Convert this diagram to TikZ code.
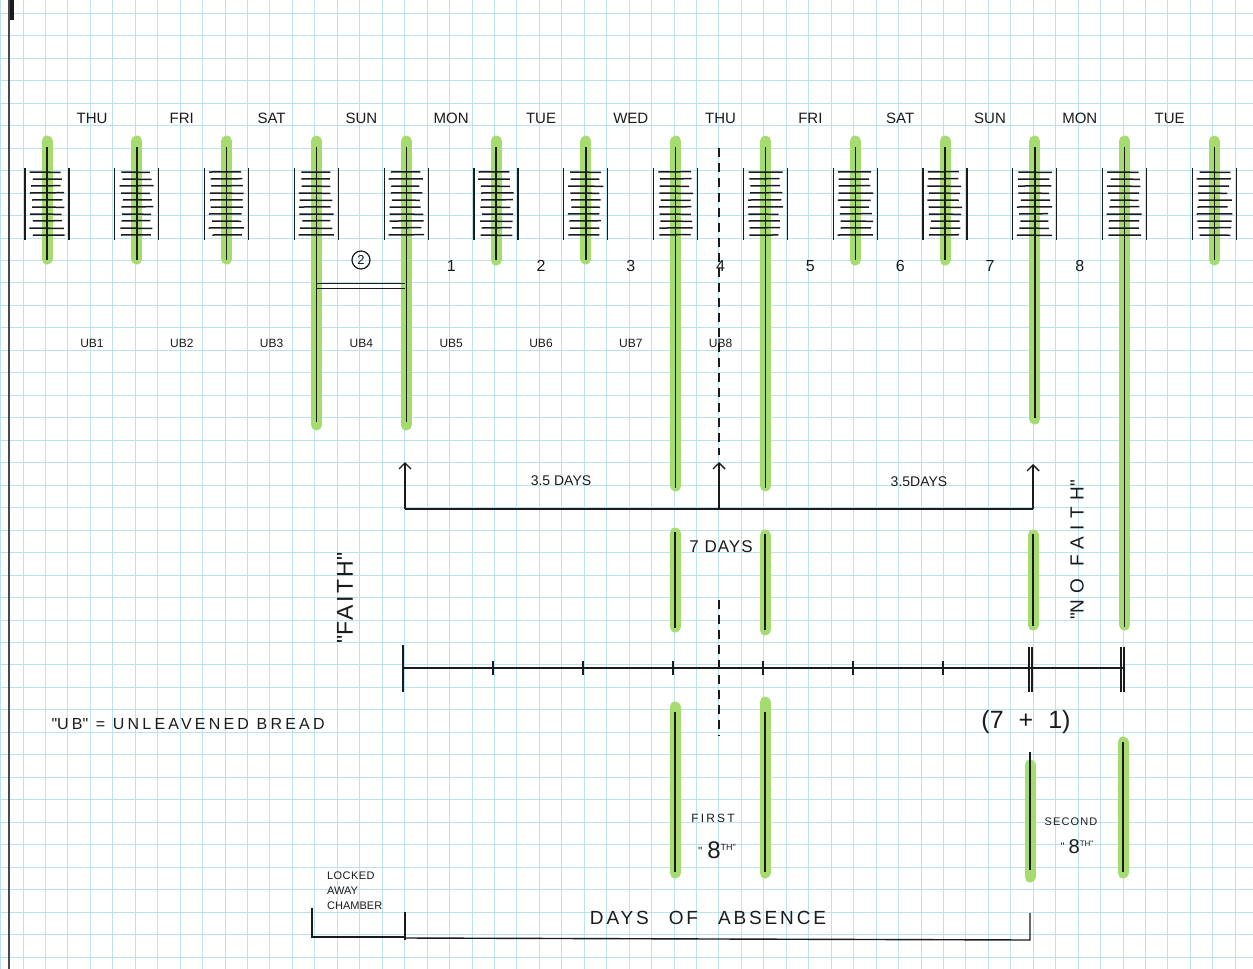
\documentclass[tikz,border=0pt]{standalone}
\usepackage{fontspec}
\setsansfont{Liberation Sans}
\usetikzlibrary{arrows.meta}
\definecolor{gridblue}{HTML}{BCE2EE}
\definecolor{marker}{HTML}{A6DB70}
\definecolor{ink}{HTML}{1B1B1B}

\begin{document}
\begin{tikzpicture}[x=1pt, y=-1pt, font=\sffamily, ink,
  hilite/.style={marker, line width=11pt, line cap=round},
  pen/.style={ink, line width=1.4pt},
  stackframe/.style={ink, line width=1.3pt},
  dayname/.style={font=\sffamily\fontsize{15}{17}\selectfont},
  ublabel/.style={font=\sffamily\fontsize{12}{14}\selectfont},
  daynum/.style={font=\sffamily\fontsize{16}{18}\selectfont},
  note/.style={font=\sffamily\fontsize{14}{16}\selectfont},
  bigtick/.style={ink, line width=2.4pt},
  tip/.style={-{Straight Barb[length=6pt,width=12pt]}}
]
  \useasboundingbox (0,0) rectangle (1253,969);
  \fill[white] (0,0) rectangle (1253,969);

  % graph paper
  \foreach \k in {0,...,55}
    \draw[gridblue, line width=0.9pt] ({0.5+22.45*\k},0) -- ++(0,969);
  \foreach \k in {0,...,42}
    \draw[gridblue, line width=0.9pt] (0,{13.3+22.47*\k}) -- ++(1253,0);
  \draw[ink!80, line width=1.6pt] (9,0) -- (9,969);
  \draw[ink, line width=4pt] (12,0) -- (12,20);

  % highlighter under the poles
  \foreach \i/\bot in {0/259, 1/259, 2/259, 3/425, 4/425, 5/260, 6/259, 7/486,
                       8/486, 9/260, 10/260, 11/419, 12/625, 13/260}
    \draw[hilite] ({47+89.8*\i},141) -- ({47+89.8*\i},\bot);
  \draw[hilite] (675,533) -- (675,627);
  \draw[hilite] (765,535) -- (765,630);
  \draw[hilite] (1033,535) -- (1033,625);
  \draw[hilite] (675,707) -- (675,873);
  \draw[hilite] (765,702) -- (765,873);
  \draw[hilite] (1030,765) -- (1030,877);
  \draw[hilite] (1123,742) -- (1123,873);

  % bread stacks
  \pgfmathsetseed{7}
  \foreach \i in {0,...,13} {
    \pgfmathsetmacro\c{47+89.8*\i}
    \draw[stackframe] (\c-22,168) -- (\c-22,240);
    \draw[stackframe] (\c+22,168) -- (\c+22,240);
    \foreach \j in {0,...,9}
      \draw[pen, line width=1.5pt] ({\c-18+4*rnd},{172+7*\j}) -- ({\c+13+5*rnd},{172+7*\j+rnd-0.5});
  }

  % poles
  \foreach \i/\bot in {0/260, 1/260, 2/260, 3/422, 4/422, 5/260, 6/260, 7/488,
                       8/488, 9/260, 10/260, 11/418, 12/627, 13/260}
    \draw[pen] ({47+89.8*\i},147) -- ({47+89.8*\i},\bot);
  \draw[pen] (675,532) -- (675,628);
  \draw[pen] (765,534) -- (765,630);
  \draw[pen] (1033,534) -- (1033,626);
  \draw[pen] (675,712) -- (675,872);
  \draw[pen] (765,712) -- (765,872);
  \draw[pen] (1030,752) -- (1030,870);
  \draw[pen] (1123,742) -- (1123,872);

  % day names, numbers, loaves
  \foreach \d [count=\i from 0] in {THU, FRI, SAT, SUN, MON, TUE, WED, THU, FRI, SAT, SUN, MON, TUE}
    \node[dayname] (day\i) at ({92+89.8*\i},118) {\d};
  \foreach \n in {1,...,8}
    \node[daynum] (num\n) at ({92+89.8*(\n+3)},266) {\n};
  \foreach \n in {1,...,8}
    \node[ublabel] (ub\n) at ({92+89.8*(\n-1)},343) {UB\n};
  \node[draw, circle, line width=1.2pt, minimum size=18pt, inner sep=0pt,
        font=\sffamily\fontsize{13}{14}\selectfont] (rest) at (361,260) {2};
  \draw[pen, line width=1pt] (316,283) -- (405,283);
  \draw[pen, line width=1pt] (316,288) -- (405,288);

  % middle of the week
  \draw[pen, line width=1.3pt, dash pattern=on 9pt off 6pt] (719,148) -- (719,455);
  \draw[pen, line width=1.3pt, dash pattern=on 9pt off 6pt] (719,600) -- (719,736);

  % half weeks
  \coordinate (lbase) at (405,509);
  \coordinate (mbase) at (719,509);
  \coordinate (rbase) at (1033,509);
  \draw[pen] (lbase) -- (rbase);
  \draw[pen, tip] (lbase) -- ++(0,-47);
  \draw[pen, tip] (mbase) -- ++(0,-47);
  \draw[pen, tip] (rbase) -- ++(0,-45);
  \node[note] (halfa) at (561,481) {3.5 DAYS};
  \node[note] (halfb) at (919,482) {3.5DAYS};
  \node[font=\sffamily\fontsize{17}{19}\selectfont] (week) at (721,547)
    {\addfontfeature{LetterSpace=6}7 DAYS};

  % time line
  \draw[pen] (403,668) -- (1123,668);
  \draw[bigtick] (403,645) -- (403,692);
  \foreach \t in {493,583,673,763,853,943}
    \draw[pen] (\t,661) -- (\t,675);
  \draw[pen] (1029,647) -- (1029,692);
  \draw[pen] (1032,647) -- (1032,692);
  \draw[pen] (1121,647) -- (1121,692);
  \draw[pen] (1124,647) -- (1124,692);

  % side texts
  \node[rotate=90, font=\sffamily\fontsize{23}{25}\selectfont] (faith) at (345,598)
    {\addfontfeature{LetterSpace=10}\textquotedbl FAITH\textquotedbl};
  \node[rotate=90, font=\sffamily\fontsize{19}{21}\selectfont] (nofaith) at (1077,550)
    {\addfontfeature{LetterSpace=34}\textquotedbl NO FAITH\textquotedbl};
  \node[anchor=west, font=\sffamily\fontsize{16}{18}\selectfont] (legend) at (48,724)
    {\addfontfeature{LetterSpace=20}\textquotedbl UB\textquotedbl\ = UNLEAVENED BREAD};
  \node[font=\sffamily\fontsize{25}{27}\selectfont] (sum) at (1026,722)
    {(7\hspace{15pt}+\hspace{15pt}1)};

  % the two eighth days
  \node[font=\sffamily\fontsize{12}{14}\selectfont] (first) at (713,818)
    {\addfontfeature{LetterSpace=18}FIRST};
  \node[font=\sffamily\fontsize{24}{26}\selectfont] (firstnum) at (717,850)
    {\raisebox{3pt}{\fontsize{12}{12}\selectfont\textquotedbl}\hspace{5pt}8\raisebox{8pt}{\fontsize{9}{9}\selectfont TH\textquotedbl}};
  \node[font=\sffamily\fontsize{11}{13}\selectfont] (second) at (1071,822)
    {\addfontfeature{LetterSpace=10}SECOND};
  \node[font=\sffamily\fontsize{20}{22}\selectfont] (secondnum) at (1077,847)
    {\raisebox{3pt}{\fontsize{11}{11}\selectfont\textquotedbl}\hspace{4pt}8\raisebox{7pt}{\fontsize{8}{8}\selectfont TH\textquotedbl}};

  % absence
  \node[anchor=north west, align=left, inner sep=0pt,
        font=\sffamily\fontsize{11}{15}\selectfont] (chamber) at (327,872)
    {\addfontfeature{LetterSpace=4}LOCKED\\AWAY\\CHAMBER};
  \draw[pen] (312,908) -- (312,937) -- (405,937);
  \draw[pen] (405,912) -- (405,940);
  \draw[pen] (405,938) -- (1030,940) -- (1030,913);
  \node[font=\sffamily\fontsize{19}{21}\selectfont] (absence) at (708,918)
    {\addfontfeature{LetterSpace=15}DAYS\hspace{20pt}OF\hspace{20pt}ABSENCE};
\end{tikzpicture}
\end{document}
